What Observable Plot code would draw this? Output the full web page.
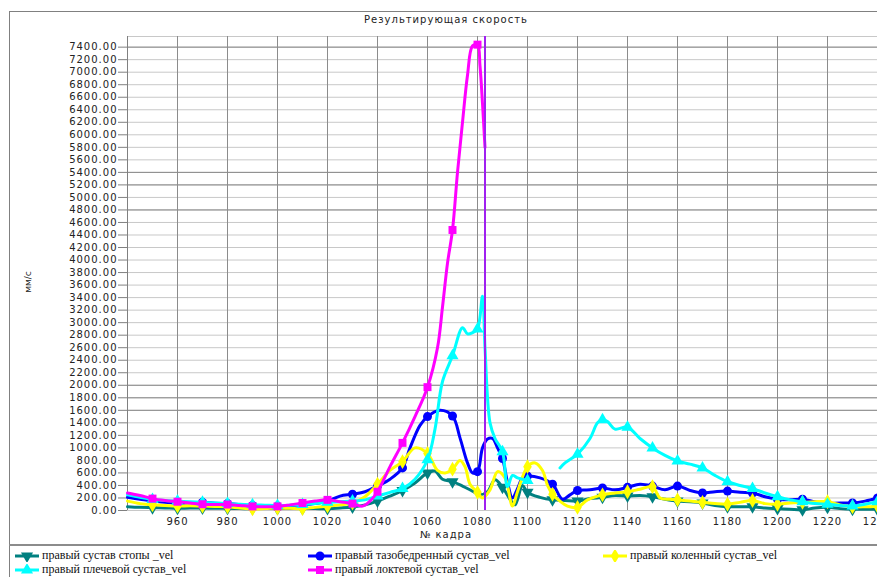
<!DOCTYPE html>
<html><head><meta charset="utf-8">
<script src="https://cdn.jsdelivr.net/npm/d3@7"></script>
<script src="https://cdn.jsdelivr.net/npm/@observablehq/plot@0.6"></script>
<style>
html,body{margin:0;padding:0;background:#fff;overflow:hidden;width:877px;height:577px;}
#frame{position:absolute;left:9px;top:11px;width:900px;height:600px;border-left:1px solid #808080;border-top:1px solid #808080;}
.t{position:absolute;font-family:"DejaVu Sans",sans-serif;font-size:10px;letter-spacing:1px;color:#222;white-space:nowrap;}
#title{left:9px;width:874px;top:14px;text-align:center;}
#chart{position:absolute;left:0;top:30px;}
#ylabel{left:12px;top:277px;width:32px;text-align:center;transform:rotate(-90deg);font-size:9px;letter-spacing:0;}
#xlabel{left:9px;width:874px;top:529px;text-align:center;}
#sep{position:absolute;left:9px;top:544px;width:880px;height:0;border-top:2px solid #8c8c8c;}
.lg{position:absolute;font-family:"Liberation Serif",serif;font-size:12px;line-height:13px;color:#111;white-space:nowrap;display:flex;align-items:center;}
.lg svg{margin-right:3px;}
</style></head><body>
<div id="frame"></div>
<div id="title" class="t">Результирующая скорость</div>
<div id="chart"></div>
<div id="ylabel" class="t">мм/с</div>
<div id="xlabel" class="t">№ кадра</div>
<div id="sep"></div>
<div id="legend"></div>
<script>
// ---- data (frame, velocity mm/s) ----
const footVel = [[940,60],[945,50],[950,45],[955,40],[960,35],[965,40],[970,40],[975,35],[980,35],[985,30],[990,30],[995,30],[1000,30],[1005,30],[1010,30],[1015,30],[1020,30],[1025,40],[1030,55],[1035,90],[1040,150],[1045,230],[1050,320],[1055,440],[1060,600],[1063,630],[1066,500],[1070,460],[1074,390],[1078,310],[1081,250],[1084,300],[1087,490],[1090,370],[1093,180],[1095,90],[1098,400],[1100,290],[1105,210],[1110,170],[1115,160],[1120,150],[1125,190],[1130,210],[1135,240],[1140,230],[1145,240],[1150,220],[1155,180],[1160,150],[1165,140],[1170,120],[1175,80],[1180,60],[1185,60],[1190,60],[1195,40],[1200,30],[1205,20],[1210,10],[1215,40],[1220,50],[1225,30],[1230,20],[1235,20],[1240,20]];
const hipVel = [[940,210],[945,180],[950,150],[955,130],[960,115],[965,120],[970,130],[975,115],[980,110],[985,95],[990,80],[995,75],[1000,70],[1005,80],[1010,90],[1015,110],[1020,150],[1025,230],[1030,260],[1035,300],[1040,390],[1045,500],[1050,680],[1053,1000],[1057,1360],[1060,1500],[1065,1600],[1070,1510],[1073,1160],[1076,760],[1078,600],[1080,620],[1082,1000],[1084,1140],[1086,1150],[1088,1000],[1090,830],[1092,450],[1094,200],[1096,350],[1098,520],[1100,550],[1105,520],[1110,420],[1114,180],[1117,250],[1120,320],[1125,330],[1130,360],[1135,330],[1140,370],[1145,420],[1150,390],[1155,330],[1160,390],[1165,320],[1170,280],[1175,300],[1180,310],[1185,290],[1190,280],[1195,220],[1200,180],[1205,170],[1210,180],[1215,140],[1220,110],[1225,120],[1230,120],[1235,150],[1240,200]];
const kneeVel = [[940,150],[945,110],[950,90],[955,80],[960,70],[965,75],[970,70],[975,65],[980,60],[985,40],[990,25],[995,30],[1000,40],[1005,35],[1010,30],[1015,50],[1020,70],[1025,90],[1030,120],[1035,220],[1040,420],[1045,640],[1050,780],[1055,1000],[1060,910],[1064,640],[1067,600],[1070,660],[1073,800],[1075,700],[1077,420],[1080,290],[1082,200],[1085,330],[1088,620],[1091,520],[1094,70],[1096,300],[1100,700],[1103,760],[1106,640],[1108,400],[1110,260],[1113,150],[1116,70],[1120,50],[1124,170],[1130,250],[1135,280],[1140,300],[1145,340],[1150,380],[1153,200],[1157,180],[1160,170],[1165,150],[1170,130],[1175,110],[1180,100],[1185,130],[1190,160],[1195,110],[1200,100],[1205,120],[1210,130],[1215,140],[1220,140],[1225,90],[1230,60],[1235,60],[1240,70]];
const shoulderVel = [[940,250],[945,210],[950,175],[955,160],[960,150],[965,140],[970,130],[975,120],[980,110],[985,100],[990,90],[995,85],[1000,80],[1005,85],[1010,95],[1015,110],[1020,130],[1025,140],[1030,150],[1035,170],[1040,230],[1045,290],[1050,350],[1055,500],[1060,810],[1063,1300],[1066,2060],[1070,2470],[1074,2920],[1076,2820],[1078,2840],[1080,2900],[1082,3420],[1083,2600],[1085,1400],[1087,1150],[1090,940],[1092,380],[1094,560],[1096,520],[1100,480],[1106,null],[1113,680],[1115,760],[1120,900],[1125,1150],[1128,1400],[1130,1450],[1132,1420],[1135,1300],[1140,1330],[1145,1150],[1150,1000],[1155,880],[1160,790],[1165,740],[1170,680],[1175,560],[1180,460],[1185,400],[1190,350],[1195,280],[1200,220],[1205,170],[1210,140],[1215,110],[1220,100],[1225,80],[1230,70],[1235,100],[1240,140]];
const elbowVel = [[940,280],[945,240],[950,190],[955,160],[960,140],[965,120],[970,100],[975,95],[980,95],[985,80],[990,65],[995,60],[1000,65],[1005,90],[1010,120],[1015,150],[1020,170],[1025,140],[1030,110],[1034,70],[1037,150],[1040,300],[1045,700],[1050,1080],[1055,1500],[1060,1970],[1064,2600],[1066,3250],[1068,3950],[1070,4480],[1072,5400],[1074,6200],[1076,6950],[1078,7420],[1080,7440],[1081,7100],[1082,6500],[1083,5800]];

const seriesData = [footVel, hipVel, kneeVel, shoulderVel, elbowVel];
const seriesNames = ["правый сустав стопы _vel","правый тазобедренный сустав_vel","правый коленный сустав_vel","правый плечевой сустав_vel","правый локтевой сустав_vel"];
const cursorFrame = [1083];
const xTicks = d3.range(960, 1241, 20);
const yTicks = d3.range(0, 7401, 200);
const darkGridY = [7400, 5400, 5200, 4800, 2000, 1800, 1600];

// ---- styles ----
const seriesColors = ["#008080","#0000ff","#ffff00","#00ffff","#ff00ff"];
const seriesSymbols = ["triangle","circle","diamond","triangle","square"];
const seriesRotate = [180,0,0,0,0];
const legendPos = [[15,549],[308,549],[603,549],[15,563],[308,563]];

const rows = seriesData.flatMap((pairs, k) => pairs.map(([frame, vel]) => ({frame, vel, k})));

const seriesMarks = seriesData.flatMap((_, k) => {
  const d = rows.filter(r => r.k === k);
  const m = d.filter(r => r.vel != null && r.frame % 10 === 0 && r.frame >= 950);
  return [
    Plot.line(d, {x: "frame", y: "vel", stroke: seriesColors[k], strokeWidth: 3, curve: "catmull-rom"}),
    Plot.dot(m, {x: "frame", y: "vel", symbol: seriesSymbols[k], r: 4.5, fill: seriesColors[k], stroke: "none", rotate: seriesRotate[k]})
  ];
});

const chart = Plot.plot({
  width: 877, height: 500,
  marginLeft: 127, marginRight: 0, marginTop: 6, marginBottom: 20,
  x: {domain: [940, 1240]},
  y: {domain: [0, 7570]},
  style: {fontFamily: "DejaVu Sans, sans-serif", fontSize: "10px", letterSpacing: "1px", color: "#222", background: "transparent", overflow: "hidden"},
  marks: [
    Plot.ruleY(yTicks, {stroke: "#c8c8c8"}),
    Plot.ruleY([7570], {stroke: "#c8c8c8"}),
    Plot.ruleY(darkGridY, {stroke: "#8a8a8a"}),
    Plot.ruleX(xTicks, {stroke: "#8c8c8c"}),
    Plot.ruleX([940], {stroke: "#808080"}),
    Plot.axisY({ticks: yTicks, tickFormat: d3.format(".2f"), tickSize: 9, tickPadding: 1, stroke: "#808080", fill: "#222", label: null}),
    Plot.axisX({ticks: xTicks, tickFormat: d => String(d), tickSize: 0, tickPadding: 7, fill: "#222", label: null}),
    ...seriesMarks,
    Plot.ruleX(cursorFrame, {stroke: "#a020f0", strokeWidth: 2})
  ]
});
document.getElementById("chart").appendChild(chart);

// ---- legend ----
const legend = document.getElementById("legend");
seriesNames.forEach((name, k) => {
  const item = document.createElement("div");
  item.className = "lg";
  item.style.left = legendPos[k][0] + "px";
  item.style.top = legendPos[k][1] + "px";
  const ns = "http://www.w3.org/2000/svg";
  const svg = document.createElementNS(ns, "svg");
  svg.setAttribute("width", 24); svg.setAttribute("height", 12);
  const line = document.createElementNS(ns, "line");
  line.setAttribute("x1", 0); line.setAttribute("x2", 24); line.setAttribute("y1", 6); line.setAttribute("y2", 6);
  line.setAttribute("stroke", seriesColors[k]); line.setAttribute("stroke-width", 3);
  svg.appendChild(line);
  const symMap = {triangle: d3.symbolTriangle, circle: d3.symbolCircle, diamond: d3.symbolDiamond, square: d3.symbolSquare};
  const p = document.createElementNS(ns, "path");
  p.setAttribute("d", d3.symbol(symMap[seriesSymbols[k]], Math.PI * 4.5 * 4.5)());
  p.setAttribute("transform", `translate(12,6) rotate(${seriesRotate[k]})`);
  p.setAttribute("fill", seriesColors[k]);
  svg.appendChild(p);
  item.appendChild(svg);
  const span = document.createElement("span");
  span.textContent = name;
  item.appendChild(span);
  legend.appendChild(item);
});
</script>
</body></html>
